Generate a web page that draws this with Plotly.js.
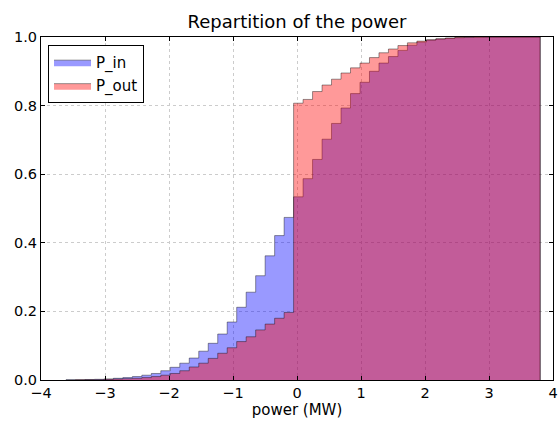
<!DOCTYPE html>
<html>
<head>
<meta charset="utf-8">
<script src="https://cdn.plot.ly/plotly-3.0.1.min.js"></script>
<style>html,body{margin:0;padding:0;background:#fff;}#chart{width:560px;height:426px;}</style>
</head>
<body>
<div id="chart"></div>
<script>
// Histogram range (data min / max) and number of bins
const binMin = -3.61;
const binMax = 3.80;
const nBins = 50;

// Cumulative normalized histogram values per bin
const pIn = [0.0005, 0.001, 0.0015, 0.002, 0.003, 0.005, 0.007, 0.010, 0.014, 0.019,
             0.027, 0.037, 0.049, 0.064, 0.084, 0.107, 0.134, 0.169, 0.212, 0.256,
             0.304, 0.362, 0.421, 0.474, 0.534, 0.587, 0.643, 0.702, 0.748, 0.793,
             0.835, 0.868, 0.900, 0.924, 0.943, 0.961, 0.976, 0.985, 0.991, 0.994,
             0.996, 0.998, 0.999, 0.9995, 1.0, 1.0, 1.0, 1.0, 1.0, 1.0];
const pOut = [0.0002, 0.0005, 0.001, 0.001, 0.002, 0.003, 0.004, 0.005, 0.007, 0.010,
              0.014, 0.019, 0.027, 0.038, 0.049, 0.063, 0.078, 0.094, 0.112, 0.126,
              0.146, 0.163, 0.180, 0.197, 0.807, 0.818, 0.841, 0.860, 0.877, 0.895,
              0.910, 0.924, 0.940, 0.954, 0.965, 0.975, 0.983, 0.988, 0.992, 0.995,
              0.997, 0.999, 0.9995, 1.0, 1.0, 1.0, 1.0, 1.0, 1.0, 1.0];
const seriesNames = ["P_in", "P_out"];
const xTicks = [-4, -3, -2, -1, 0, 1, 2, 3, 4];
const yTicks = [0.0, 0.2, 0.4, 0.6, 0.8, 1.0];

const binW = (binMax - binMin) / nBins;
const edges = [];
for (let k = 0; k <= nBins; k++) edges.push(binMin + k * binW);

function stepXY(vals) {
  const xs = [edges[0]], ys = [0];
  for (let k = 0; k < vals.length; k++) { xs.push(edges[k]); ys.push(vals[k]); }
  xs.push(edges[vals.length]); ys.push(vals[vals.length - 1]);
  xs.push(edges[vals.length]); ys.push(0);
  return {xs, ys};
}

const a = stepXY(pIn), b = stepXY(pOut);
const font = "DejaVu Sans, sans-serif";

const traces = [
  {x: a.xs, y: a.ys, name: seriesNames[0], type: "scatter", mode: "lines",
   line: {shape: "hv", color: "rgba(0,0,0,0.4)", width: 1},
   fill: "tozeroy", fillcolor: "rgba(0,0,255,0.4)", legendgroup: "a"},
  {x: b.xs, y: b.ys, name: seriesNames[1], type: "scatter", mode: "lines",
   line: {shape: "hv", color: "rgba(0,0,0,0.4)", width: 1},
   fill: "tozeroy", fillcolor: "rgba(255,0,0,0.4)", legendgroup: "b"}
];

const axisCommon = {
  showline: true, linecolor: "#000", linewidth: 1, mirror: "allticks",
  ticks: "inside", ticklen: 4, tickcolor: "#000", tickwidth: 1,
  showgrid: true, gridcolor: "#cccccc", griddash: "3px,3px", gridwidth: 1,
  zeroline: false, tickfont: {family: font, size: 14.5, color: "#000"}
};

const layout = {
  width: 560, height: 426,
  margin: {l: 41, r: 7, t: 37, b: 46},
  paper_bgcolor: "#fff", plot_bgcolor: "#fff",
  font: {family: font, color: "#000"},
  title: {text: "Repartition of the power", font: {family: font, size: 18, color: "#000"},
          x: 0.5, xref: "paper", y: 1 - 22 / 426, yref: "container", yanchor: "middle"},
  xaxis: Object.assign({}, axisCommon, {
    range: [-4, 4], tickvals: xTicks, ticktext: xTicks.map(v => v < 0 ? "\u2212" + Math.abs(v) : String(v)),
    title: {text: "power (MW)", font: {family: font, size: 15, color: "#000"}, standoff: 4}
  }),
  yaxis: Object.assign({}, axisCommon, {
    range: [0, 1], tickvals: yTicks, ticktext: yTicks.map(v => v.toFixed(1))
  }),
  showlegend: true,
  legend: {x: 0.0137, y: 0.977, xanchor: "left", yanchor: "top",
           bgcolor: "#fff", bordercolor: "#000", borderwidth: 1, itemwidth: 37,
           font: {family: font, size: 15, color: "#000"}, tracegroupgap: 1}
};

Plotly.newPlot("chart", traces, layout, {displayModeBar: false, staticPlot: true});
</script>
</body>
</html>
